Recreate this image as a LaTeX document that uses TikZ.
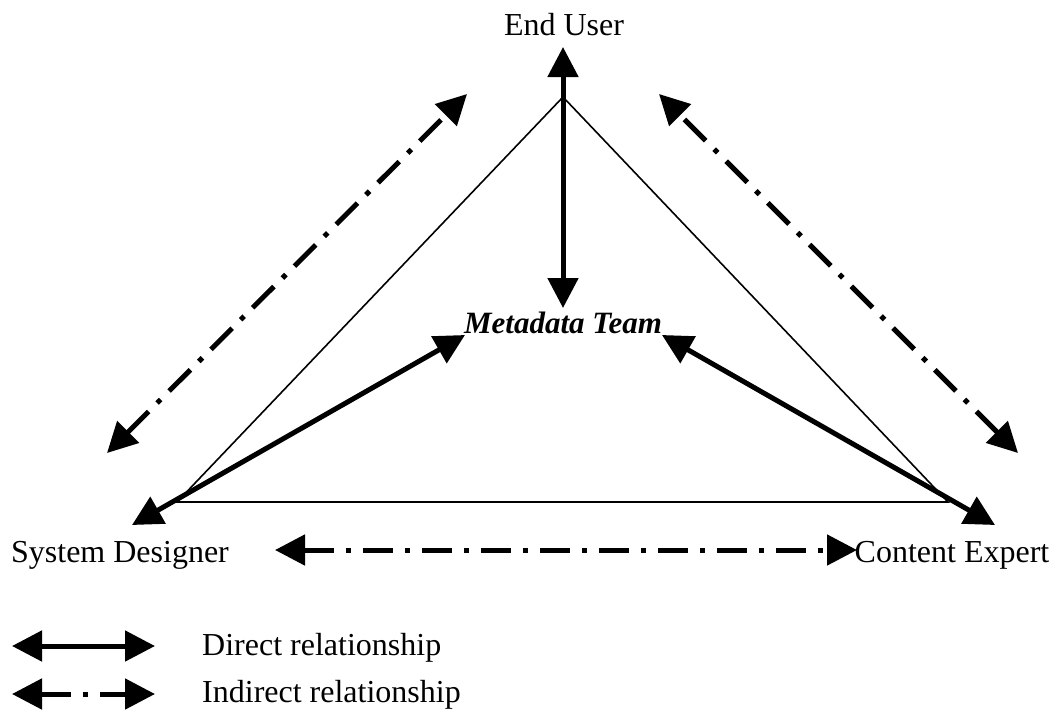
\documentclass[tikz,border=0pt]{standalone}
\usepackage{fontspec}
\setmainfont{Liberation Serif}
\usetikzlibrary{arrows.meta}

\tikzset{
    role/.style={inner sep=0pt, anchor=base, font=\fontsize{32}{32}\selectfont},
    key/.style={role, anchor=base west},
    head/.tip={Triangle[length=30pt, width=30pt]},
    direct/.style={line width=5pt, head-head},
    indirect/.style={line width=5pt, dash pattern=on 30pt off 12pt on 5pt off 12pt, head-head},
    side/.style={line width=1.6pt}
}

\begin{document}
\begin{tikzpicture}[x=1pt, y=-1pt]

        \useasboundingbox (0,0) rectangle (1059,713);

        % Vertices
        \node[role](user) at (564,35){End User};
        \node[role, font=\fontsize{31}{31}\selectfont\bfseries\itshape](team) at (563,333){Metadata Team};
        \node[role](designer) at (120,562){System Designer};
        \node[role](expert) at (952,562){Content Expert};
        \node[key](directKey) at (202,655){Direct relationship};
        \node[key](indirectKey) at (202,702){Indirect relationship};

        \coordinate (apex) at (563,97);
        \coordinate (baseL) at (177,502);
        \coordinate (baseR) at (948,502);

        \coordinate (userTip) at (563,47);
        \coordinate (teamTop) at (563,308);
        \coordinate (teamL) at (465,335);
        \coordinate (teamR) at (662,335);
        \coordinate (designerTip) at (132,525);
        \coordinate (expertTip) at (995,525);
        \coordinate (indLtop) at (467,94);
        \coordinate (indLbot) at (107,453);
        \coordinate (indRtop) at (659,94);
        \coordinate (indRbot) at (1018,453);
        \coordinate (indBL) at (275,550);
        \coordinate (indBR) at (857,550);
        \coordinate (directA) at (12,646);
        \coordinate (directB) at (155,646);
        \coordinate (indirectA) at (12,694);
        \coordinate (indirectB) at (155,694);

        % Edges
        \draw[side](apex) -- (baseL) -- (baseR) -- cycle;
        \draw[direct](userTip) -- (teamTop);
        \draw[direct](designerTip) -- (teamL);
        \draw[direct](expertTip) -- (teamR);
        \draw[indirect](indLbot) -- (indLtop);
        \draw[indirect](indRbot) -- (indRtop);
        \draw[indirect](indBL) -- (indBR);
        \draw[direct](directA) -- (directB);
        \draw[indirect](indirectA) -- (indirectB);

    \end{tikzpicture}
\end{document}
